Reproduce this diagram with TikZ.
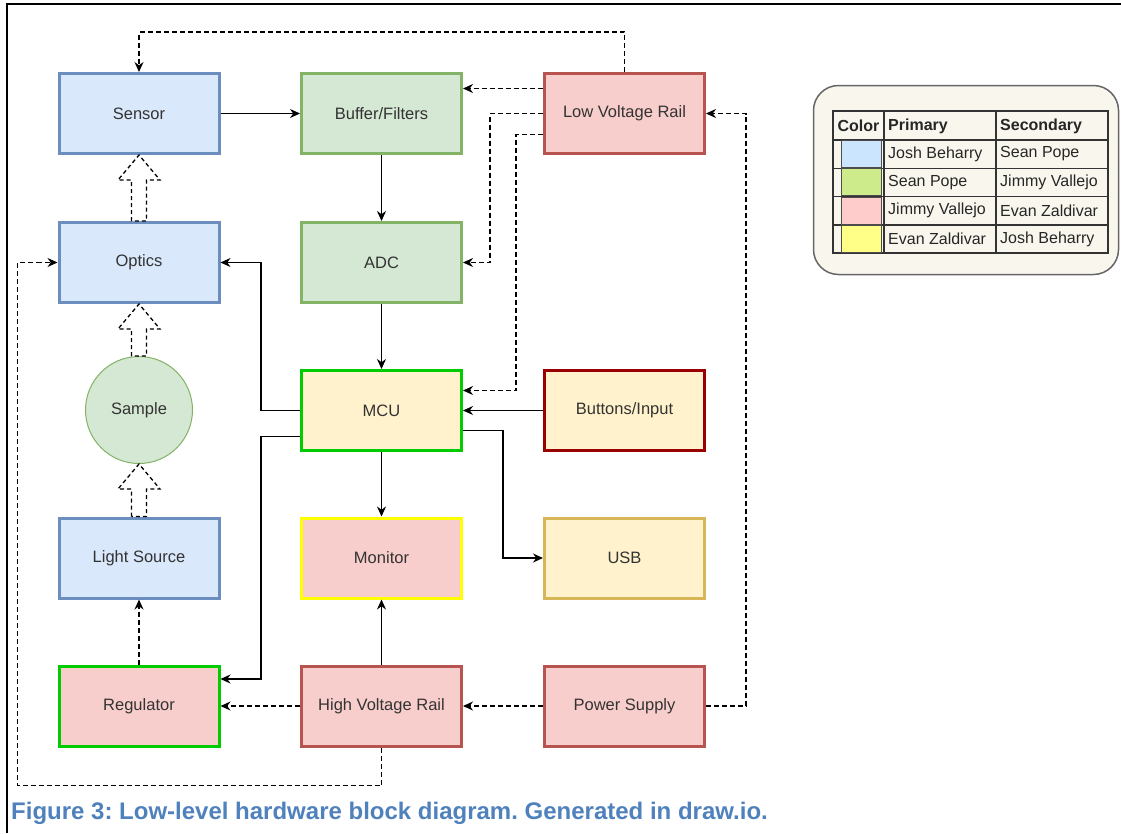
\documentclass[tikz,border=0pt]{standalone}
\usepackage{fontspec}
\setmainfont{Liberation Sans}
\usetikzlibrary{arrows.meta,calc}
\frenchspacing

\definecolor{blueFill}{HTML}{DAE8FC}
\definecolor{blueLine}{HTML}{6C8EBF}
\definecolor{greenFill}{HTML}{D5E8D4}
\definecolor{greenLine}{HTML}{82B366}
\definecolor{redFill}{HTML}{F8CECC}
\definecolor{redLine}{HTML}{B85450}
\definecolor{yellowFill}{HTML}{FFF2CC}
\definecolor{yellowLine}{HTML}{D6B656}
\definecolor{brightGreen}{HTML}{00CC00}
\definecolor{darkRed}{HTML}{990000}
\definecolor{brightYellow}{HTML}{FFFF00}
\definecolor{textGray}{HTML}{333333}
\definecolor{legFill}{HTML}{F9F7ED}
\definecolor{legLine}{HTML}{666666}
\definecolor{swBlue}{HTML}{CCE5FF}
\definecolor{swGreen}{HTML}{CDEB8B}
\definecolor{swPink}{HTML}{FFCCCC}
\definecolor{swYellow}{HTML}{FFFF88}
\definecolor{captionBlue}{HTML}{4F81BD}

\begin{document}
\begin{tikzpicture}[x=1pt, y=-1pt, >={Stealth[length=10pt, width=9pt]}]

    % Styles
    \tikzstyle{label} = [font=\fontsize{16.5}{19}\selectfont, text=textGray]
    \tikzstyle{block} = [label, rectangle, draw, line width=3pt, minimum width=160pt, minimum height=80pt]
    \tikzstyle{blueblock} = [block, fill=blueFill, draw=blueLine]
    \tikzstyle{greenblock} = [block, fill=greenFill, draw=greenLine]
    \tikzstyle{redblock} = [block, fill=redFill, draw=redLine]
    \tikzstyle{yellowblock} = [block, fill=yellowFill, draw=yellowLine]
    \tikzstyle{signal} = [->, line width=1.3pt, draw=black]
    \tikzstyle{power} = [signal, dash pattern=on 5pt off 3pt]
    \tikzstyle{light} = [line width=1.3pt, draw=black, fill=white, dash pattern=on 4pt off 3pt]
    \tikzstyle{cell} = [font=\fontsize{16}{19}\selectfont, text=black!85, anchor=west, inner sep=0pt]

    \useasboundingbox (0,0) rectangle (1121,833);

    % Frame
    \draw[line width=1.8pt] (7,833) -- (7,4) -- (1121,4);

    % Optical path
    \node[blueblock] (sensor) at (139,113.5) {Sensor};
    \node[blueblock] (optics) at (139,262.5) {Optics};
    \node[label, circle, draw=greenLine, fill=greenFill, line width=1pt, minimum size=107pt] (sample) at (139,410) {Sample};
    \node[blueblock] (source) at (139,558) {Light Source};
    \node[redblock, draw=brightGreen] (regulator) at (139,706) {Regulator};

    % Signal chain
    \node[greenblock] (buffer) at (381.5,113.5) {Buffer/Filters};
    \node[greenblock] (adc) at (381.5,262.5) {ADC};
    \node[yellowblock, draw=brightGreen] (mcu) at (381.5,410.5) {MCU};
    \node[redblock, draw=brightYellow] (monitor) at (381.5,558) {Monitor};
    \node[redblock] (hvr) at (381.5,706) {High Voltage Rail};

    % Power and peripherals
    \node[redblock] (lvr) at (624.5,113.5) {Low Voltage Rail};
    \node[yellowblock, draw=darkRed] (buttons) at (624.5,410.5) {Buttons/Input};
    \node[yellowblock] (usb) at (624.5,558) {USB};
    \node[redblock] (supply) at (624.5,706) {Power Supply};

    % Light arrows
    \foreach \a/\b in {optics/sensor, sample/optics, source/sample}
        \draw[light] ($(\a.north)+(-7.5,0)$) -- ($(\b.south)+(-7.5,25)$) -- ($(\b.south)+(-21,25)$)
            -- (\b.south) -- ($(\b.south)+(21,25)$) -- ($(\b.south)+(7.5,25)$) -- ($(\a.north)+(7.5,0)$) -- cycle;

    % Signal connections
    \draw[signal] (sensor) -- (buffer);
    \draw[signal] (buffer) -- (adc);
    \draw[signal] (adc) -- (mcu);
    \draw[signal] (mcu) -- (monitor);
    \draw[signal] (hvr) -- (monitor);
    \draw[signal] (buttons) -- (mcu);
    \draw[signal] ([yshift=-20pt]mcu.east) -- ++(40,0) |- (usb.west);
    \draw[signal] (mcu.west) -- ++(-39,0) |- (optics.east);
    \draw[signal] ([yshift=-26pt]mcu.west) -- ++(-39,0) |- ([yshift=27pt]regulator.east);

    % Power connections
    \draw[power] (lvr.north) -- ++(0,-40) -| (sensor.north);
    \draw[power] ([yshift=25pt]lvr.west) -- ([yshift=25pt]buffer.east);
    \draw[power] (lvr.west) -- ++(-53,0) |- (adc.east);
    \draw[power] ([yshift=-21pt]lvr.west) -- ++(-27,0) |- ([yshift=20pt]mcu.east);
    \draw[power] (supply.east) -- ++(40,0) |- (lvr.east);
    \draw[power] (supply) -- (hvr);
    \draw[power] (hvr) -- (regulator);
    \draw[power] (regulator) -- (source);
    \draw[power] (hvr.south) -- ++(0,38) -| ([xshift=-40pt]optics.west) -- (optics.west);

    % Legend
    \node[draw=legLine, fill=legFill, rounded corners=25pt, line width=1.5pt, minimum width=305pt, minimum height=189pt] (legend) at (966,180) {};
    \draw[line width=1.3pt, draw=black!80] (833,111) rectangle (1108,253);
    \foreach \y in {140,168.3,196.6,224.9}
        \draw[line width=1.3pt, draw=black!80] (833,\y) -- (1108,\y);
    \foreach \x in {884,996}
        \draw[line width=1.3pt, draw=black!80] (\x,111) -- (\x,253);
    \node[cell, font=\fontsize{16}{19}\selectfont\bfseries, anchor=center] (hcolor) at (858.5,126) {Color};
    \node[cell, font=\fontsize{16}{19}\selectfont\bfseries] (hprimary) at (888,126) {Primary};
    \node[cell, font=\fontsize{16}{19}\selectfont\bfseries] (hsecondary) at (1000,126) {Secondary};
    \foreach \i/\p/\s/\c in {1/Josh Beharry/Sean Pope/swBlue, 2/Sean Pope/Jimmy Vallejo/swGreen,
                             3/Jimmy Vallejo/Evan Zaldivar/swPink, 4/Evan Zaldivar/Josh Beharry/swYellow} {
        \node[draw=black!70, fill=\c, line width=1pt, minimum width=40pt, minimum height=27pt, inner sep=0pt] (sw\i) at (861,{125.7+28.3*\i}) {};
        \node[cell] (p\i) at (888,{125.7+28.3*\i}) {\p};
        \node[cell] (s\i) at (1000,{125.7+28.3*\i}) {\s};
    }

    % Caption
    \node[anchor=west, inner sep=0pt, font=\fontsize{24}{27}\selectfont\bfseries, text=captionBlue] (caption) at (11,813) {Figure 3: Low-level hardware block diagram. Generated in draw.io.};

\end{tikzpicture}
\end{document}
